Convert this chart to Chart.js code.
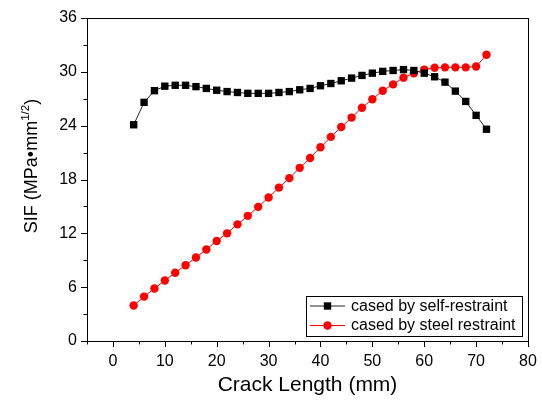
<!DOCTYPE html>
<html>
<head>
<meta charset="utf-8">
<script src="https://cdn.jsdelivr.net/npm/chart.js@4.4.0/dist/chart.umd.min.js"></script>
<style>
  html, body { margin: 0; padding: 0; background: #fff; }
  #wrap { width: 542px; height: 403px; }
</style>
</head>
<body>
<div id="wrap"><canvas id="sifChart" width="542" height="403"></canvas></div>
<script>
// crack length (mm) and SIF values
const crackLength = [4, 6, 8, 10, 12, 14, 16, 18, 20, 22, 24, 26, 28, 30, 32, 34, 36, 38,
  40, 42, 44, 46, 48, 50, 52, 54, 56, 58, 60, 62, 64, 66, 68, 70, 72];
const selfRestraint = [24.1, 26.6, 27.9, 28.4, 28.5, 28.5, 28.35, 28.15, 27.95, 27.8, 27.7, 27.6, 27.6, 27.6, 27.7, 27.8, 28.0, 28.15,
  28.45, 28.7, 29.0, 29.3, 29.6, 29.85, 30.05, 30.15, 30.25, 30.15, 29.85, 29.45, 28.85, 27.85, 26.7, 25.15, 23.6];
const steelRestraint = [3.95, 4.95, 5.85, 6.75, 7.6, 8.45, 9.3, 10.2, 11.15, 12.0, 13.0, 13.95, 14.95, 16.0, 17.1, 18.15, 19.3, 20.4,
  21.6, 22.75, 23.85, 24.9, 26.0, 26.95, 27.9, 28.6, 29.35, 29.85, 30.25, 30.45, 30.5, 30.5, 30.5, 30.6, 31.9];
const seriesNames = ['cased by self-restraint', 'cased by steel restraint'];

const xTicks = [0, 10, 20, 30, 40, 50, 60, 70, 80];
const xMinorTicks = [-5, 5, 15, 25, 35, 45, 55, 65, 75];
const yTicks = [0, 6, 12, 18, 24, 30, 36];
const yMinorTicks = [3, 9, 15, 21, 27, 33];

const FONT = "'Liberation Sans', Arial, sans-serif";

// frame, outward ticks, inset legend and the y title with superscript
const decorations = {
  id: 'decorations',
  afterDraw(chart) {
    const ctx = chart.ctx;
    const a = chart.chartArea;
    const xs = chart.scales.x, ys = chart.scales.y;
    ctx.save();
    ctx.strokeStyle = '#000';
    ctx.lineWidth = 1;
    ctx.strokeRect(Math.round(a.left) + 0.5, Math.round(a.top) + 0.5,
      Math.round(a.right - a.left), Math.round(a.bottom - a.top));

    ctx.beginPath();
    xTicks.forEach(v => {
      const px = Math.round(xs.getPixelForValue(v)) + 0.5;
      ctx.moveTo(px, a.bottom); ctx.lineTo(px, a.bottom + 6);
    });
    xMinorTicks.forEach(v => {
      const px = Math.round(xs.getPixelForValue(v)) + 0.5;
      ctx.moveTo(px, a.bottom); ctx.lineTo(px, a.bottom + 3.5);
    });
    yTicks.forEach(v => {
      const py = Math.round(ys.getPixelForValue(v)) + 0.5;
      ctx.moveTo(a.left, py); ctx.lineTo(a.left - 6, py);
    });
    yMinorTicks.forEach(v => {
      const py = Math.round(ys.getPixelForValue(v)) + 0.5;
      ctx.moveTo(a.left, py); ctx.lineTo(a.left - 3.5, py);
    });
    ctx.stroke();

    // legend box
    const lx = 306, ly = 296, lw = 216, lh = 40;
    ctx.fillStyle = '#fff';
    ctx.fillRect(lx, ly, lw, lh);
    ctx.strokeRect(lx + 0.5, ly + 0.5, lw, lh);
    chart.data.datasets.forEach((ds, i) => {
      const cy = ly + 10 + i * 19.5;
      ctx.strokeStyle = ds.borderColor;
      ctx.lineWidth = 1;
      ctx.beginPath();
      ctx.moveTo(lx + 4, cy); ctx.lineTo(lx + 39, cy);
      ctx.stroke();
      ctx.fillStyle = ds.pointBackgroundColor;
      if (ds.pointStyle === 'rect') {
        ctx.fillRect(lx + 21.5 - 3.7, cy - 3.7, 7.4, 7.4);
      } else {
        ctx.beginPath(); ctx.arc(lx + 21.5, cy, 4.2, 0, Math.PI * 2); ctx.fill();
      }
      ctx.fillStyle = '#000';
      ctx.font = '16px ' + FONT;
      ctx.textBaseline = 'middle';
      ctx.textAlign = 'left';
      ctx.fillText(ds.label, lx + 45, cy + 0.5);
    });

    // y axis title: SIF (MPa•mm^1/2)
    const main = 'SIF (MPa\u2022mm', sup = '1/2', tail = ')';
    ctx.fillStyle = '#000';
    ctx.textBaseline = 'alphabetic';
    ctx.textAlign = 'left';
    ctx.font = '18px ' + FONT;
    const wMain = ctx.measureText(main).width, wTail = ctx.measureText(tail).width;
    ctx.font = '11.5px ' + FONT;
    const wSup = ctx.measureText(sup).width;
    const total = wMain + wSup + wTail;
    ctx.translate(37, 166);
    ctx.rotate(-Math.PI / 2);
    let x0 = -total / 2;
    ctx.font = '18px ' + FONT;
    ctx.fillText(main, x0, 0);
    ctx.font = '11.5px ' + FONT;
    ctx.fillText(sup, x0 + wMain, -8.5);
    ctx.font = '18px ' + FONT;
    ctx.fillText(tail, x0 + wMain + wSup, 0);
    ctx.restore();
  }
};

new Chart(document.getElementById('sifChart'), {
  type: 'line',
  data: {
    datasets: [
      {
        label: seriesNames[0],
        data: crackLength.map((x, i) => ({ x, y: selfRestraint[i] })),
        borderColor: '#222',
        borderWidth: 1,
        pointStyle: 'rect',
        pointRadius: 5.2,
        pointBackgroundColor: '#000',
        pointBorderWidth: 0,
        tension: 0
      },
      {
        label: seriesNames[1],
        data: crackLength.map((x, i) => ({ x, y: steelRestraint[i] })),
        borderColor: '#ff0000',
        borderWidth: 1,
        pointStyle: 'circle',
        pointRadius: 4.2,
        pointBackgroundColor: '#ff0000',
        pointBorderWidth: 0,
        tension: 0
      }
    ]
  },
  options: {
    responsive: false,
    animation: false,
    layout: { padding: { left: 0, right: 14, top: 18, bottom: 0 } },
    plugins: { legend: { display: false }, tooltip: { enabled: false } },
    scales: {
      x: {
        type: 'linear',
        min: -5,
        max: 80,
        afterBuildTicks: s => { s.ticks = xTicks.map(v => ({ value: v })); },
        afterFit: s => { s.height = 62; },
        grid: { display: false, drawTicks: true, tickLength: 11 },
        border: { display: false },
        ticks: { color: '#000', font: { family: FONT, size: 16 }, padding: 0, maxRotation: 0 },
        title: {
          display: true,
          text: 'Crack Length (mm)',
          color: '#000',
          font: { family: FONT, size: 21 },
          padding: { top: 0, bottom: 5 }
        }
      },
      y: {
        type: 'linear',
        min: 0,
        max: 36,
        afterBuildTicks: s => { s.ticks = yTicks.map(v => ({ value: v })); },
        afterFit: s => { s.width = 87; },
        grid: { display: false, drawTicks: true, tickLength: 10 },
        border: { display: false },
        ticks: { color: '#000', font: { family: FONT, size: 16 }, padding: 0 }
      }
    }
  },
  plugins: [decorations]
});
</script>
</body>
</html>
